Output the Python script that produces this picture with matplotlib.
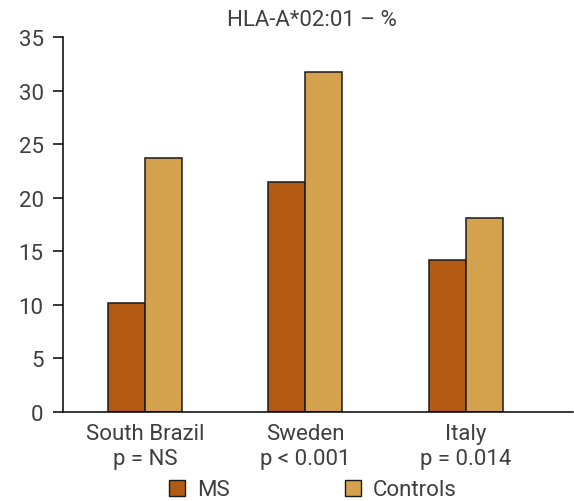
import numpy as np
import matplotlib
matplotlib.use("Agg")
import matplotlib.pyplot as plt
from matplotlib.patches import Patch

plt.rcParams['font.family'] = ['Roboto', 'DejaVu Sans']

# data
regions = ["South Brazil\np = NS", "Sweden\np < 0.001", "Italy\np = 0.014"]
ms_vals = [10.2, 21.5, 14.2]
ctrl_vals = [23.7, 31.7, 18.1]
title = "HLA-A*02:01 – %"

ms_color = "#B35A14"
ctrl_color = "#D4A24C"
txt = "#3f3f3f"

fig = plt.figure(figsize=(5.74, 5.02), dpi=100)
ax = fig.add_axes([63/574, 89/502, 510/574, 375/502])

x = np.arange(len(regions))
w = 0.23
ax.bar(x - w/2, ms_vals, w, color=ms_color, edgecolor="#1a1a1a", linewidth=1.1, label="MS")
ax.bar(x + w/2, ctrl_vals, w, color=ctrl_color, edgecolor="#1a1a1a", linewidth=1.1, label="Controls")

ax.set_xlim(-0.51, 2.667)
ax.set_ylim(0, 35)
ax.set_yticks(range(0, 36, 5))
ax.set_xticks(x)
ax.set_xticklabels(regions, linespacing=1.25)
ax.tick_params(axis='x', length=0, pad=8, labelsize=16, labelcolor=txt)
ax.tick_params(axis='y', length=7, width=1.1, pad=7, labelsize=16, labelcolor=txt)
for s in ["top", "right"]:
    ax.spines[s].set_visible(False)
for s in ["left", "bottom"]:
    ax.spines[s].set_linewidth(1.1)

fig.text(312/574, 1 - 20/502, title, ha="center", va="center", fontsize=16, color=txt)

handles = [Patch(facecolor=ms_color, edgecolor="#1a1a1a", label="MS"),
           Patch(facecolor=ctrl_color, edgecolor="#1a1a1a", label="Controls")]
fig.legend(handles=handles, loc="center", bbox_to_anchor=(313/574, 1 - 491/502), ncol=2,
           frameon=False, fontsize=16, handlelength=0.7, handleheight=0.7,
           columnspacing=5.2, handletextpad=0.55, labelcolor=txt)

fig.savefig("out.png", dpi=100)
